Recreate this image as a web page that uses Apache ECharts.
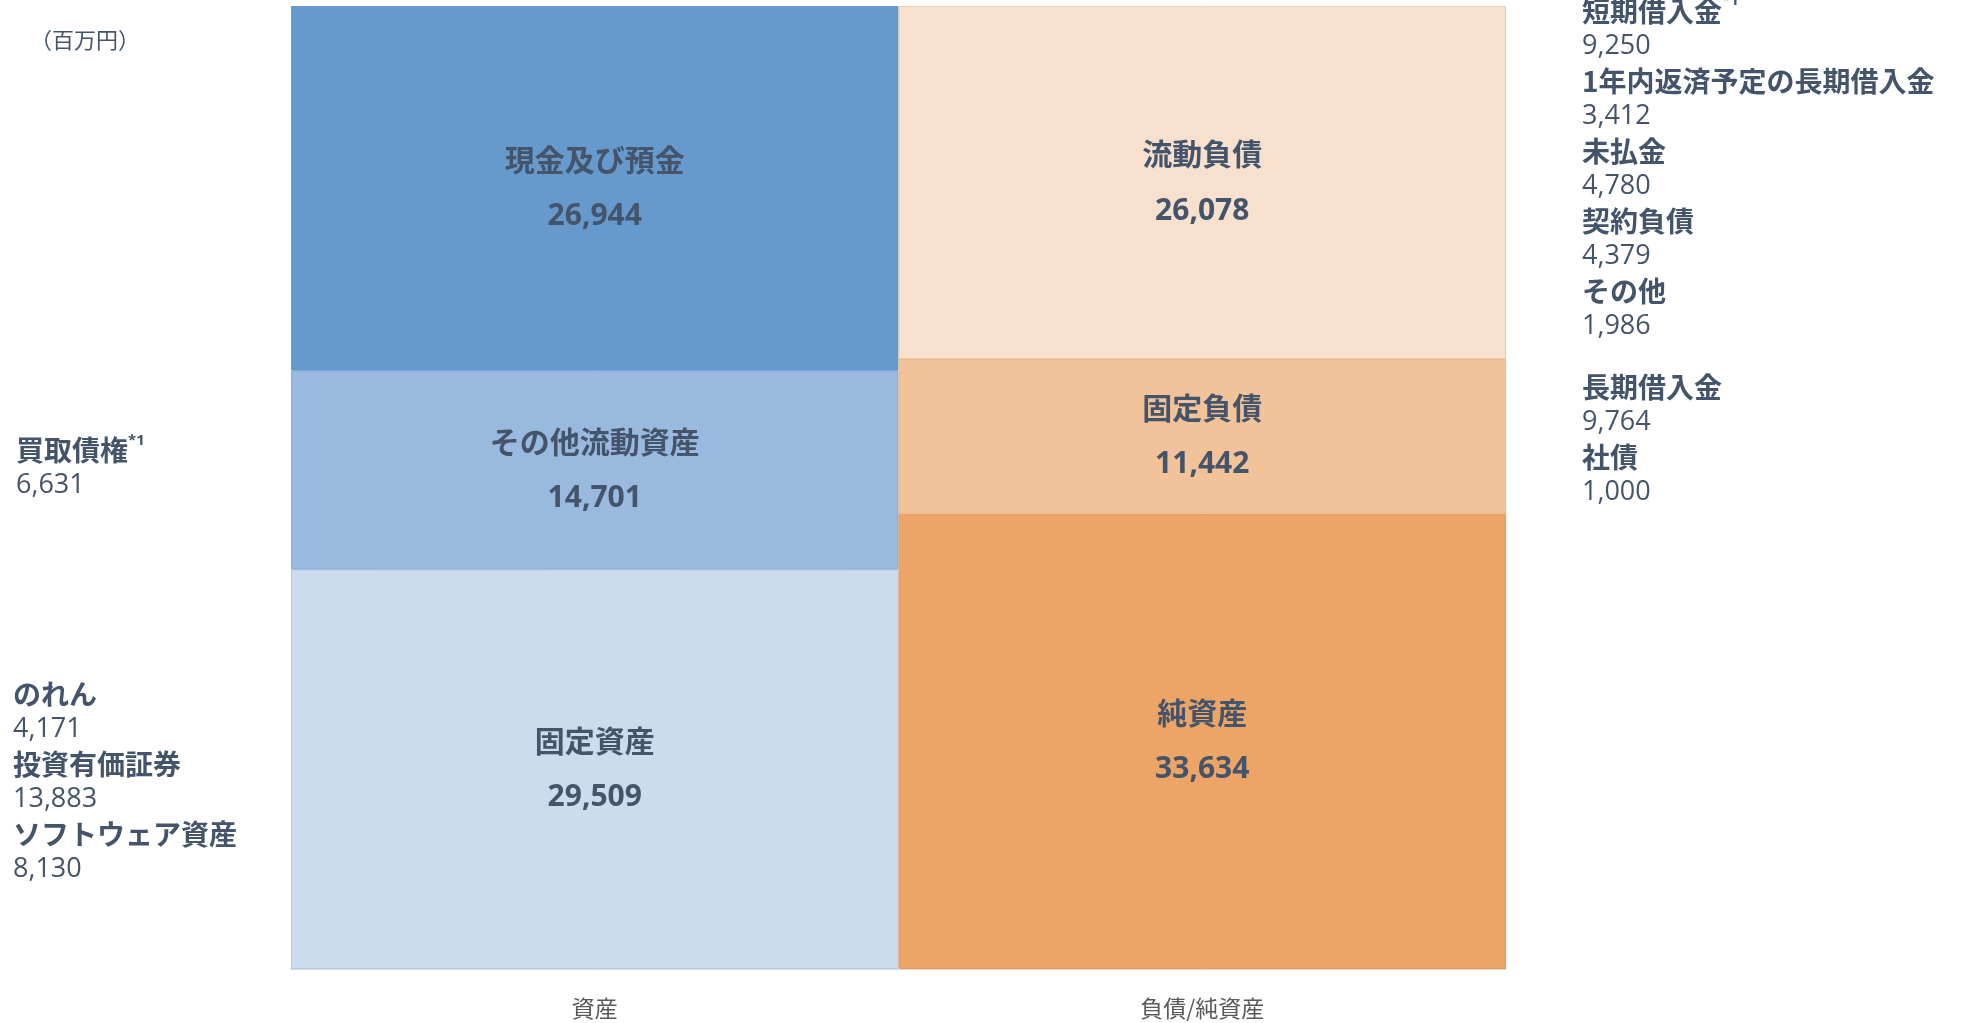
<!DOCTYPE html>
<html>
<head>
<meta charset="utf-8">
<script src="https://cdn.jsdelivr.net/npm/echarts@6/dist/echarts.min.js"></script>
<style>
  html, body { margin: 0; padding: 0; background: #fff; }
  #main { width: 1961px; height: 1023px; }
</style>
</head>
<body>
<div id="main"></div>
<script>
// 貸借対照表（百万円）
var categories = ['資産', '負債/純資産'];

// 積み上げ順（下から）
var assetNames = ['固定資産', 'その他流動資産', '現金及び預金'];
var assetValues = [29509, 14701, 26944];
var liabNames = ['純資産', '固定負債', '流動負債'];
var liabValues = [33634, 11442, 26078];

// 内訳（横の注記）
var otherCurrentNotes = [{ name: '買取債権', mark: '*1', value: 6631 }];
var fixedAssetNotes = [
    { name: 'のれん', value: 4171 },
    { name: '投資有価証券', value: 13883 },
    { name: 'ソフトウェア資産', value: 8130 }
];
var currentLiabNotes = [
    { name: '短期借入金', mark: '*1', value: 9250 },
    { name: '1年内返済予定の長期借入金', value: 3412 },
    { name: '未払金', value: 4780 },
    { name: '契約負債', value: 4379 },
    { name: 'その他', value: 1986 }
];
var fixedLiabNotes = [
    { name: '長期借入金', value: 9764 },
    { name: '社債', value: 1000 }
];

var unitText = '（百万円）';

(function () {
    var myChart = echarts.init(document.getElementById('main'));

    var textColor = '#44546a';
    var jp = '"Noto Sans CJK JP", sans-serif';
    var num = '"Open Sans", "Noto Sans CJK JP", sans-serif';

    var assetColors = ['#ccdbee', '#99b9de', '#6699cc'];
    var assetBorders = ['#b7cbe6', '#7faad9', '#6699cc'];
    var liabColors = ['#eca566', '#f2c299', '#f8e0ce'];
    var liabBorders = ['#e49a5a', '#eeb483', '#f2c8a6'];

    var total = assetValues.reduce(function (a, b) { return a + b; }, 0);

    function fmt(v) {
        return v.toLocaleString('en-US');
    }

    var series = [];
    function addSeries(names, values, colors, borders, idx) {
        names.forEach(function (name, i) {
            var data = ['-', '-'];
            data[idx] = values[i];
            series.push({
                name: name,
                type: 'bar',
                stack: 'bs',
                barWidth: '100%',
                barCategoryGap: 0,
                data: data,
                itemStyle: {
                    color: colors[i],
                    borderColor: borders[i],
                    borderWidth: 1
                },
                label: {
                    show: true,
                    position: 'inside',
                    formatter: function (p) {
                        return '{n|' + p.seriesName + '}\n{v|' + fmt(p.value) + '}';
                    },
                    rich: {
                        n: { fontFamily: jp, fontWeight: 'bold', fontSize: 30, color: textColor, lineHeight: 57 },
                        v: { fontFamily: num, fontWeight: 'bold', fontSize: 30, color: textColor, lineHeight: 57 }
                    }
                }
            });
        });
    }
    addSeries(assetNames, assetValues, assetColors, assetBorders, 0);
    addSeries(liabNames, liabValues, liabColors, liabBorders, 1);

    var option = {
        animation: false,
        grid: {
            left: 291,
            right: 455,
            top: 6,
            bottom: 54
        },
        xAxis: {
            type: 'category',
            data: categories,
            axisTick: { show: false },
            axisLine: {
                show: true,
                lineStyle: { color: '#d9d9d9', width: 1 }
            },
            axisLabel: {
                color: '#595959',
                fontFamily: jp,
                fontSize: 23,
                margin: 28
            }
        },
        yAxis: {
            type: 'value',
            min: 0,
            max: total,
            show: false,
            splitLine: { show: false }
        },
        series: series
    };

    myChart.setOption(option);

    // 注記ブロック：区分の中央にそろえる
    function noteText(notes) {
        return notes.map(function (n) {
            return '{n|' + n.name + '}' + (n.mark ? '{s|' + n.mark + '}' : '') + '\n{v|' + fmt(n.value) + '}';
        }).join('\n');
    }
    var noteRich = {
        n: { fontFamily: jp, fontWeight: 'bold', fontSize: 28, fill: textColor, lineHeight: 35 },
        s: { fontFamily: num, fontWeight: 'bold', fontSize: 15, fill: textColor, lineHeight: 35, verticalAlign: 'top' },
        v: { fontFamily: num, fontSize: 27, fill: textColor, lineHeight: 35 }
    };

    function segCenter(values, i, cat) {
        var base = 0;
        for (var k = 0; k < i; k++) base += values[k];
        var y0 = myChart.convertToPixel({ gridIndex: 0 }, [cat, base])[1];
        var y1 = myChart.convertToPixel({ gridIndex: 0 }, [cat, base + values[i]])[1];
        return (y0 + y1) / 2;
    }

    function block(notes, x, y) {
        return {
            type: 'text',
            x: x,
            y: y,
            style: {
                text: noteText(notes),
                rich: noteRich,
                fill: textColor,
                verticalAlign: 'middle',
                align: 'left'
            }
        };
    }

    myChart.setOption({
        graphic: [
            {
                type: 'text',
                x: 30,
                y: 40,
                style: {
                    text: unitText,
                    fill: '#44546a',
                    font: '22px ' + jp,
                    verticalAlign: 'middle'
                }
            },
            block(otherCurrentNotes, 16, segCenter(assetValues, 1, categories[0]) - 2),
            block(fixedAssetNotes, 13, segCenter(assetValues, 0, categories[0]) + 13),
            block(currentLiabNotes, 1582, segCenter(liabValues, 2, categories[1]) - 14),
            block(fixedLiabNotes, 1582, segCenter(liabValues, 1, categories[1]) + 3)
        ]
    });

    window.addEventListener('resize', function () {
        myChart.resize();
    });
})();
</script>
</body>
</html>
